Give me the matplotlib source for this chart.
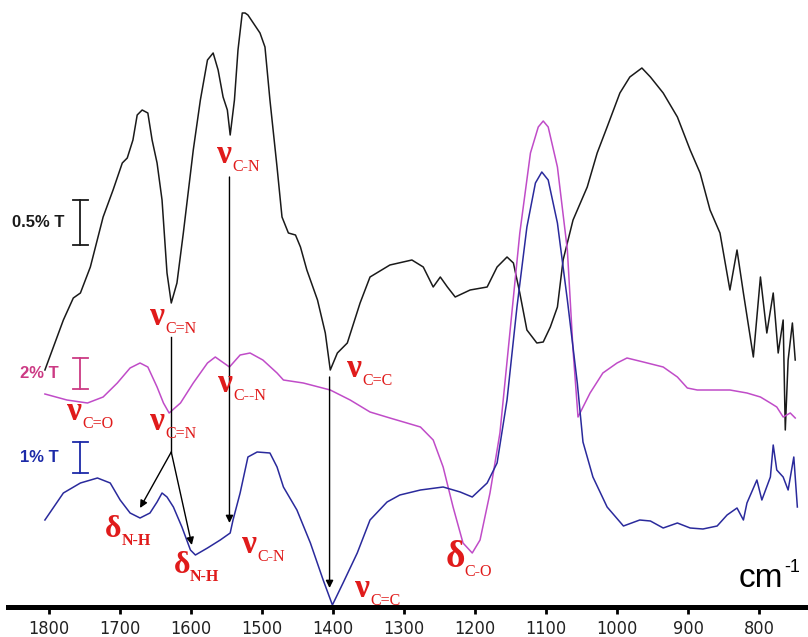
import matplotlib
matplotlib.use("Agg")
import matplotlib.pyplot as plt

# FTIR difference spectra, wavenumber (cm-1) vs transmittance (arbitrary offset units)
black_wn = [1806, 1780, 1766, 1756, 1742, 1724, 1710, 1697, 1690, 1682, 1676, 1669, 1661, 1655,
            1648, 1641, 1634, 1628, 1620, 1611, 1597, 1587, 1577, 1569, 1562, 1555, 1549, 1545,
            1539, 1534, 1528, 1524, 1520, 1503, 1496, 1489, 1479, 1472, 1463, 1453, 1446, 1437,
            1422, 1411, 1404, 1394, 1380, 1362, 1348, 1320, 1289, 1273, 1259, 1249, 1239, 1228,
            1207, 1183, 1169, 1155, 1146, 1137, 1127, 1113, 1104, 1094, 1084, 1076, 1062, 1042,
            1028, 1014, 996, 982, 965, 953, 935, 915, 897, 883, 869, 855, 841, 831, 822, 808,
            798, 789, 780, 773, 766, 763, 759, 753, 749]
black_t = [237, 287, 309, 314, 340, 390, 417, 444, 449, 467, 492, 497, 494, 467,
           444, 407, 334, 304, 324, 374, 457, 507, 547, 554, 537, 510, 497, 472,
           507, 557, 594, 594, 592, 574, 560, 507, 440, 390, 374, 372, 360, 337,
           307, 274, 237, 254, 264, 304, 330, 342, 347, 340, 320, 330, 320, 310,
           317, 320, 340, 350, 344, 314, 277, 264, 265, 280, 300, 347, 387, 420,
           454, 480, 514, 530, 539, 530, 514, 490, 457, 434, 397, 374, 317, 357, 314, 250,
           330, 274, 314, 254, 287, 177, 247, 284, 247]

magenta_wn = [1806, 1775, 1746, 1724, 1704, 1686, 1672, 1661, 1648, 1639, 1631, 1615, 1597,
              1577, 1566, 1556, 1546, 1531, 1517, 1499, 1479, 1470, 1442, 1404, 1376, 1348,
              1320, 1296, 1277, 1259, 1245, 1231, 1217, 1204, 1193, 1179, 1165, 1151, 1137,
              1122, 1111, 1104, 1097, 1084, 1070, 1062, 1055, 1038, 1020, 1000, 986, 963,
              935, 915, 901, 887, 865, 841, 817, 798, 784, 775, 766, 756, 749]
magenta_t = [213, 207, 204, 210, 224, 239, 244, 240, 220, 204, 194, 204, 224,
             244, 250, 245, 240, 252, 254, 247, 234, 227, 224, 217, 207, 195,
             189, 184, 180, 167, 140, 100, 64, 54, 67, 114, 174, 274, 374,
             454, 480, 486, 480, 440, 357, 257, 190, 214, 234, 244, 249, 245,
             240, 230, 219, 217, 217, 217, 214, 210, 204, 200, 190, 194, 189]

blue_wn = [1806, 1780, 1756, 1732, 1714, 1700, 1686, 1672, 1658, 1648, 1641, 1634, 1625,
           1613, 1601, 1594, 1577, 1559, 1545, 1541, 1531, 1520, 1507, 1489, 1479, 1470,
           1451, 1432, 1414, 1401, 1386, 1366, 1348, 1324, 1306, 1277, 1245, 1221, 1204,
           1183, 1169, 1155, 1141, 1127, 1115, 1106, 1097, 1084, 1070, 1056, 1048, 1034,
           1014, 991, 968, 953, 935, 915, 897, 879, 859, 845, 831, 822, 817, 803, 796,
           784, 780, 775, 766, 759, 751, 746]
blue_t = [87, 114, 124, 129, 124, 107, 94, 89, 94, 105, 114, 110, 100,
          80, 57, 52, 59, 67, 74, 87, 114, 150, 155, 154, 140, 120,
          97, 64, 27, 2, 24, 54, 87, 105, 112, 117, 120, 115, 110,
          124, 144, 207, 300, 380, 424, 435, 427, 384, 307, 224, 165, 130,
          100, 81, 87, 86, 79, 84, 79, 78, 81, 92, 99, 87, 104, 127, 107,
          130, 162, 137, 130, 117, 150, 100]

ticks = [1800, 1700, 1600, 1500, 1400, 1300, 1200, 1100, 1000, 900, 800]

RED = "#e01b1b"
BLACK = "#1a1a1a"
MAGENTA = "#c04cc8"
BLUE = "#2a2a9c"

fig = plt.figure(figsize=(8.08, 6.37), dpi=100)
ax = fig.add_axes([8 / 808, 30 / 637, 800 / 808, 607 / 637])

ax.plot(black_wn, black_t, color=BLACK, lw=1.1)
ax.plot(magenta_wn, magenta_t, color=MAGENTA, lw=1.1)
ax.plot(blue_wn, blue_t, color=BLUE, lw=1.1)

ax.set_xlim(1858, 731)
ax.set_ylim(0, 607)
for s in ["left", "right", "top"]:
    ax.spines[s].set_visible(False)
ax.spines["bottom"].set_linewidth(3.6)
ax.set_yticks([])
ax.set_xticks(ticks)
ax.tick_params(axis="x", direction="out", length=5, width=2, pad=4)
for lab in ax.get_xticklabels():
    lab.set_fontfamily("DejaVu Sans")
    lab.set_fontstretch("condensed")
    lab.set_fontsize(13)
    lab.set_color("#222222")

# scale bars: label, bottom, top, colour, label right edge
bars = [("0.5% T", 362, 407, BLACK, 1779), ("2% T", 218, 249, "#cc3a84", 1787),
        ("1% T", 134, 165, "#1c2aa8", 1787)]
for txt, lo, hi, col, tx in bars:
    ax.plot([1756, 1756], [lo, hi], color=col, lw=1.3)
    ax.plot([1767, 1745], [lo, lo], color=col, lw=1.3)
    ax.plot([1767, 1745], [hi, hi], color=col, lw=1.3)
    ax.text(tx, (lo + hi) / 2, txt, color=col, fontsize=12, fontweight="bold",
            ha="right", va="center", family="Liberation Sans")

# arrows
arrow_kw = dict(arrowstyle="-|>", color="black", lw=1.0, mutation_scale=11, shrinkA=0, shrinkB=0)
ax.plot([1628, 1628], [270, 155], color="black", lw=1.0)
ax.annotate("", xy=(1672, 99), xytext=(1628, 155), arrowprops=arrow_kw)
ax.annotate("", xy=(1599, 62), xytext=(1628, 155), arrowprops=arrow_kw)
ax.annotate("", xy=(1546, 84), xytext=(1546, 430), arrowprops=arrow_kw)
ax.annotate("", xy=(1405, 19), xytext=(1405, 230), arrowprops=arrow_kw)

# band labels: symbol, subscript, position of symbol
labels = [
    ("ν", "C-N", 1563, 444, False),
    ("ν", "C=N", 1658, 282, False),
    ("ν", "C=C", 1380, 230, False),
    ("ν", "C=O", 1775, 187, False),
    ("ν", "C=N", 1658, 177, False),
    ("ν", "C--N", 1562, 215, False),
    ("δ", "N-H", 1721, 70, True),
    ("δ", "N-H", 1625, 34, True),
    ("ν", "C-N", 1528, 54, False),
    ("ν", "C=C", 1369, 10, False),
    ("δ", "C-O", 1242, 40, False),
]
for sym, sub, x, y, boldsub in labels:
    if sub == "C-O":
        size = 27
    elif sym == "δ":
        size = 23
    else:
        size = 24
    t = ax.text(x, y, sym, color=RED, fontsize=size, fontweight="bold",
                family="Liberation Serif", ha="left", va="baseline")
    ax.annotate(sub, xy=(1, 0), xycoords=t, xytext=(0, -1), textcoords="offset points",
                color=RED, fontsize=11.5, fontweight="bold" if boldsub else "normal",
                family="Liberation Serif", ha="left", va="baseline")

ax.text(829, 20, "cm", fontsize=24, family="Liberation Sans", ha="left", va="baseline")
ax.text(764, 35, "-1", fontsize=13, family="Liberation Sans", ha="left", va="baseline")

fig.savefig("out.png", dpi=100)
